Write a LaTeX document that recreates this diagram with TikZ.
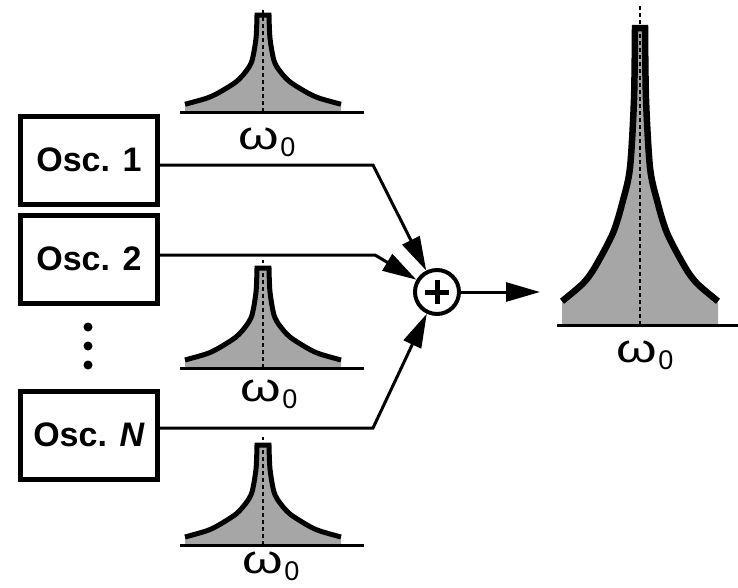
\documentclass[tikz,border=0pt]{standalone}
\usepackage{fontspec}
\setmainfont{Liberation Sans}
\usetikzlibrary{arrows.meta,calc}
\tikzset{
 oscbox/.style={draw,line width=5pt,minimum width=137pt,minimum height=88pt,inner sep=0pt,font=\fontsize{34}{34}\selectfont\bfseries},
 conn/.style={line width=3pt},
 arr/.style={conn,-{Triangle[length=34pt,width=19pt]}},
 sumnode/.style={circle,draw,line width=4pt,minimum size=44pt,inner sep=0pt},
 wlabel/.style={inner sep=0pt},
 dotn/.style={circle,fill,inner sep=0pt,minimum size=9pt},
 specfill/.style={fill=black!35},
 specline/.style={line join=miter,line cap=butt},
 baseln/.style={line width=3pt},
 centerln/.style={line width=2.2pt,dash pattern=on 4pt off 3pt},
}
\newcommand{\wlab}{{\fontsize{40}{40}\selectfont\scalebox{1.3}[1]{ω}}\kern1pt\raisebox{-7pt}{\fontsize{27}{27}\selectfont 0}}
% #1 cx, #2 base, #3 yscale, #4 line width, #5 top half width
\newcommand{\spec}[5]{%
 \begin{scope}[shift={(#1,#2)}]
 \fill[specfill,yscale=#3] (-78,0) -- plot[smooth] coordinates{(-78,-8) (-57,-14) (-45,-19.5) (-27,-31) (-17,-42) (-#5-5,-53) (-#5-1,-76) (-#5,-100)} -- plot[smooth] coordinates{(#5,-100) (#5+1,-76) (#5+5,-53) (17,-42) (27,-31) (45,-19.5) (57,-14) (78,-8)} -- (78,0) -- cycle;
 \draw[specline,line width=#4,yscale=#3] plot[smooth] coordinates{(-78,-8) (-57,-14) (-45,-19.5) (-27,-31) (-17,-42) (-#5-5,-53) (-#5-1,-76) (-#5,-100)} -- plot[smooth] coordinates{(#5,-100) (#5+1,-76) (#5+5,-53) (17,-42) (27,-31) (45,-19.5) (57,-14) (78,-8)};
 \draw[centerln,yscale=#3] (0,0) -- (0,-108);
 \draw[baseln] (-83,0) -- (101,0);
 \end{scope}}
\begin{document}
\begin{tikzpicture}[x=1pt,y=-1pt]
\useasboundingbox (0,0) rectangle (738,587);
% oscillators
\node[oscbox] (o1) at (89,160) {Osc. 1};
\node[oscbox] (o2) at (89,259) {Osc. 2};
\node[oscbox] (oN) at (89,435) {Osc. \textit{N}};
\node[dotn] (d1) at (88,327) {};
\node[dotn] (d2) at (88,346) {};
\node[dotn] (d3) at (88,365) {};
% summer
\node[sumnode] (sum) at (437,292) {};
\draw[line width=5pt] ($(sum)+(-12,0)$) -- ($(sum)+(12,0)$);
\draw[line width=5pt] ($(sum)+(0,-12)$) -- ($(sum)+(0,12)$);
% bends
\coordinate (b1) at (373,165);
\coordinate (b2) at (375,255);
\coordinate (bN) at (373,428);
\coordinate (out) at (540,292);
\draw[arr] (o1.east |- b1) -- (b1) -- (sum);
\draw[arr] (o2.east |- b2) -- (b2) -- (sum);
\draw[arr] (oN.east |- bN) -- (bN) -- (sum);
\draw[arr] (sum) -- (out);
% spectra
\spec{263}{112}{0.97}{5pt}{6}
\spec{263}{368}{1.0}{5pt}{6}
\spec{263}{545}{1.0}{5pt}{6}
\spec{640}{325}{2.97}{6.5pt}{5}
\node[wlabel] (w1) at (267,142) {\wlab};
\node[wlabel] (w2) at (269,394) {\wlab};
\node[wlabel] (w3) at (271,566) {\wlab};
\node[wlabel] (w4) at (645,355) {\wlab};
\end{tikzpicture}
\end{document}
